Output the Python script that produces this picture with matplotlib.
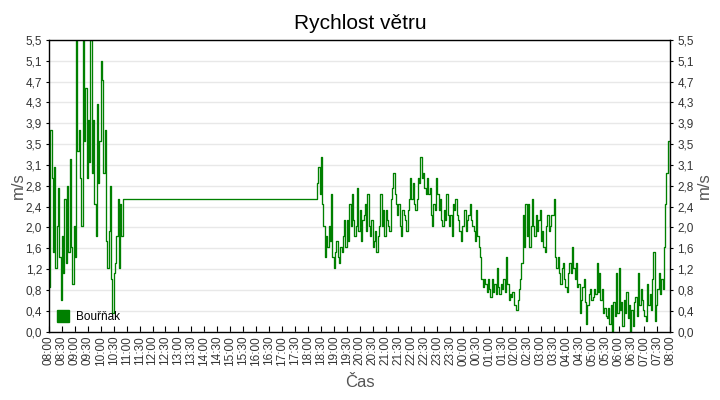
import numpy as np
import matplotlib
matplotlib.use("Agg")
import matplotlib.pyplot as plt
from matplotlib.lines import Line2D

plt.rcParams['font.family'] = ['Liberation Sans', 'DejaVu Sans']

# wind speed [m/s], one value every 3 minutes
# morning block starts 08:00 (08:00 .. 10:51)
rano_08 = [0.85, 3.8, 2.9, 1.5, 3.1, 1.2, 2.0, 2.7, 1.4, 0.6, 1.8, 1.1, 2.5, 1.3, 2.75, 1.5, 3.25, 1.6, 0.9, 2.0]
rano_09 = [1.4, 5.5, 3.4, 3.8, 2.9, 2.0, 5.5, 3.6, 4.6, 2.9, 4.0, 3.2, 5.5, 3.0, 4.0, 2.4, 1.8, 4.3, 2.8, 3.6]
rano_10 = [5.1, 4.75, 3.0, 3.8, 1.7, 1.2, 1.9, 2.75, 1.0, 0.35, 1.1, 1.3, 1.8, 2.5, 1.2, 2.4, 1.8, 2.5]

# evening/night block starts 18:21 (18:21 .. 08:00)
vecer_18 = [2.8, 3.1, 2.6, 3.3, 2.4, 2.0, 1.4, 1.8, 1.6, 2.0, 1.7, 2.6, 1.4]
vecer_19 = [1.2, 1.5, 1.7, 1.4, 1.3, 1.6, 1.5, 1.8, 2.1, 1.6, 2.1, 1.7, 2.4, 2.0, 2.6, 2.1, 1.8, 2.0, 2.7, 1.9]
vecer_20 = [2.3, 1.7, 2.1, 2.2, 2.4, 1.9, 2.6, 2.0, 1.8, 2.1, 1.6, 1.7, 1.9, 1.5, 1.8, 2.0, 2.6, 2.0, 2.3, 1.8]
vecer_21 = [2.3, 2.1, 2.0, 1.9, 2.5, 2.7, 3.0, 2.6, 2.4, 2.2, 2.4, 2.0, 1.8, 2.3, 2.2, 2.1, 1.9, 2.3, 2.5, 2.9]
noc_22 = [2.5, 2.8, 2.4, 2.3, 2.5, 2.9, 2.8, 3.3, 2.9, 3.0, 2.7, 2.6, 2.9, 2.6, 2.7, 2.2, 2.0, 2.4, 2.3, 2.9]
noc_23 = [2.6, 2.3, 2.5, 2.1, 2.0, 2.3, 2.1, 2.6, 2.2, 2.0, 2.2, 1.8, 2.4, 2.3, 2.5, 2.2, 2.1, 1.9, 1.7, 2.0]
noc_00 = [2.0, 2.3, 1.9, 2.1, 2.2, 2.4, 2.1, 2.0, 1.9, 1.7, 2.3, 1.8, 1.6, 1.4, 1.0, 0.85, 1.0, 0.9, 0.75, 1.0]
noc_01 = [0.8, 0.65, 1.0, 0.75, 0.9, 0.7, 1.2, 0.85, 0.7, 0.9, 0.8, 1.0, 0.75, 1.4, 0.9, 0.6, 0.7, 0.65, 0.75, 0.5]
noc_02 = [0.5, 0.4, 0.6, 0.8, 1.0, 1.3, 2.2, 1.6, 2.4, 1.8, 2.4, 1.6, 2.0, 2.5, 2.0, 1.8, 2.2, 1.9, 2.1, 2.3]
noc_03 = [1.7, 1.9, 1.6, 1.5, 2.0, 2.2, 1.9, 2.0, 2.2, 2.2, 2.5, 1.4, 1.2, 1.4, 1.1, 0.9, 1.2, 1.3, 1.0, 0.85]
noc_04 = [0.75, 1.1, 1.3, 1.1, 1.6, 1.2, 1.0, 1.3, 0.85, 0.9, 0.35, 0.6, 0.85, 1.0, 0.55, 0.15, 0.5, 0.7, 0.8, 0.6]
noc_05 = [0.65, 0.8, 0.7, 1.3, 0.75, 1.1, 0.6, 0.8, 0.35, 0.45, 0.3, 0.25, 0.45, 0.15, 0.5, 0.0, 0.55, 0.3, 1.1, 0.35]
noc_06 = [1.2, 0.4, 0.55, 0.1, 0.6, 0.35, 0.75, 0.25, 0.5, 0.0, 0.4, 0.1, 0.55, 0.65, 0.3, 1.1, 0.5, 0.8, 0.6, 0.4]
noc_07 = [0.3, 0.2, 0.9, 0.5, 0.7, 0.4, 1.0, 1.5, 0.2, 0.5, 0.8, 1.1, 0.7, 1.0, 0.8, 1.6, 2.4, 3.0, 3.6, 3.6]
konec_08 = [2.0]

y_labels = ["0,0", "0,4", "0,8", "1,2", "1,6", "2,0", "2,4", "2,8",
            "3,1", "3,5", "3,9", "4,3", "4,7", "5,1", "5,5"]

#---------------------------------------

rano = rano_08 + rano_09 + rano_10
vecer = (vecer_18 + vecer_19 + vecer_20 + vecer_21 + noc_22 + noc_23 + noc_00 +
         noc_01 + noc_02 + noc_03 + noc_04 + noc_05 + noc_06 + noc_07 + konec_08)

# minutes since 08:00
t_rano = np.arange(len(rano)) * 3
t_vecer = 621 + np.arange(len(vecer)) * 3
t = np.concatenate([t_rano, t_vecer])
v = np.array(rano + vecer)

fig = plt.figure(figsize=(7.2, 4.0), dpi=100)
ax = fig.add_axes([0.068, 0.171, 0.863, 0.729])

ax.plot(t, v, color="#008000", lw=0.95, drawstyle="steps-post", label="Bouřňak")

ymax = 5.5
ax.set_ylim(0, ymax)
ax.set_xlim(0, 1440)
yt = [i * ymax / 14 for i in range(15)]
ax.set_yticks(yt)
ax.set_yticklabels(y_labels)

xt = np.arange(0, 1441, 30)
xl = ["%02d:%02d" % (((8 * 60 + m) // 60) % 24, m % 60) for m in xt]
ax.set_xticks(xt)
ax.set_xticklabels(xl, rotation=90)

ax.grid(axis="y", color="#e8e8e8", lw=1)
ax.set_axisbelow(True)
for s in ["top", "left", "right", "bottom"]:
    ax.spines[s].set_color("black")
    ax.spines[s].set_linewidth(1)

ax.tick_params(axis="x", direction="in", length=4, labelsize=8.5,
               labelcolor="#333333", pad=3)
ax.tick_params(axis="y", direction="out", length=2, labelsize=8.5,
               labelcolor="#333333", right=True, labelright=True, pad=3)

ax.set_ylabel("m/s", fontsize=12, color="#555555", labelpad=0)
ax2 = ax.secondary_yaxis("right")
ax2.set_yticks([])
ax2.spines["right"].set_visible(False)
ax2.set_ylabel("m/s", fontsize=12, color="#555555", labelpad=19)

ax.set_xlabel("Čas", fontsize=12, color="#555555", labelpad=7)
fig.suptitle("Rychlost větru", fontsize=15, y=0.965)

h = Line2D([], [], marker="s", color="#008000", ls="", markersize=9)
ax.legend([h], ["Bouřňak"], loc="lower left", frameon=False, fontsize=8.5,
          handletextpad=0.6, borderaxespad=0.3, handlelength=1.0)

fig.savefig("out.png", dpi=100)
